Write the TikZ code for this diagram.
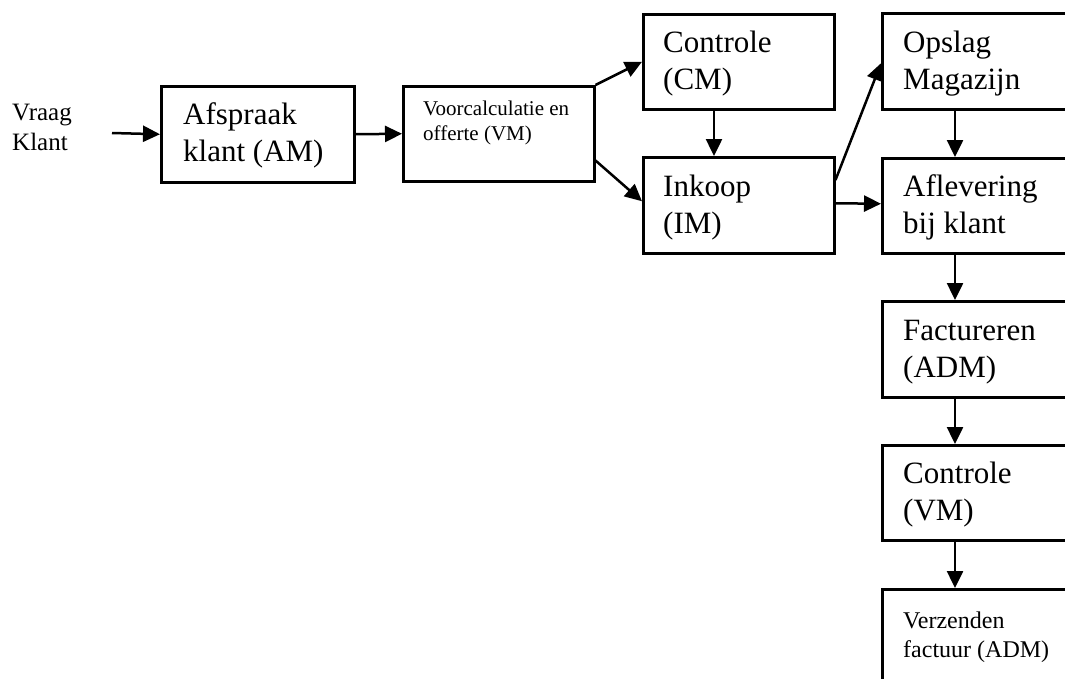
\documentclass[tikz,border=0pt]{standalone}
\usepackage{fontspec}
\setmainfont{Liberation Serif}
\usetikzlibrary{arrows.meta,calc}

\tikzset{
  box/.style={draw=black, line width=2.5pt, fill=white, anchor=north west, inner sep=0pt},
  lbl/.style={anchor=base west, inner sep=0pt, align=left, text=black},
  big/.style={lbl, font=\fontsize{31}{36.5}\selectfont},
  mid/.style={lbl, font=\fontsize{24}{29}\selectfont},
  small/.style={lbl, font=\fontsize{21}{25}\selectfont},
  flow/.style={line width=2.5pt, -{Triangle[length=17pt,width=16pt]}}
}

\begin{document}
\begin{tikzpicture}[x=1pt,y=-1pt]
  % page frame
  \useasboundingbox (0,0) rectangle (1065,678);
  \fill[white] (0,0) rectangle (1065,678);

  % boxes
  \node[box, minimum width=193pt, minimum height=96pt] (afspraak) at (160,85) {};
  \node[box, minimum width=191pt, minimum height=95pt] (voorc) at (402,85) {};
  \node[box, minimum width=191pt, minimum height=95pt] (ctrlcm) at (642,13) {};
  \node[box, minimum width=191pt, minimum height=96pt] (inkoop) at (642,156) {};
  \node[box, minimum width=220pt, minimum height=96pt] (opslag) at (881,12) {};
  \node[box, minimum width=220pt, minimum height=95pt] (aflev) at (881,157) {};
  \node[box, minimum width=220pt, minimum height=96pt] (fact) at (881,300) {};
  \node[box, minimum width=220pt, minimum height=95pt] (ctrlvm) at (881,444) {};
  \node[box, minimum width=220pt, minimum height=130pt] (verz) at (881,588) {};

  % texts (placed by the baseline of their last line)
  \node[lbl, font=\fontsize{25}{30}\selectfont] (vraag) at (12,150) {Vraag\\Klant};
  \node[big] (t-afspraak) at (183,161) {Afspraak\\klant (AM)};
  \node[small] (t-voorc) at (423,140) {Voorcalculatie en\\offerte (VM)};
  \node[big] (t-ctrlcm) at (663,89) {Controle\\(CM)};
  \node[big] (t-inkoop) at (663,233) {Inkoop\\(IM)};
  \node[big] (t-opslag) at (903,89) {Opslag\\Magazijn};
  \node[big] (t-aflev) at (903,233) {Aflevering\\bij klant};
  \node[big] (t-fact) at (903,377) {Factureren\\(ADM)};
  \node[big] (t-ctrlvm) at (903,520) {Controle\\(VM)};
  \node[mid] (t-verz) at (903,657) {Verzenden\\factuur (ADM)};

  % connectors
  \coordinate (start) at (112,133);
  \draw[flow] (start) -- (afspraak.west);
  \draw[flow] (afspraak.east) -- (voorc.west);
  \draw[flow] (voorc.north east) -- (ctrlcm.west);
  \draw[flow] ($(voorc.south east)+(0,-22)$) -- ($(inkoop.west)+(0,-4)$);
  \draw[flow] ($(ctrlcm.south west)+(72,0)$) -- ($(inkoop.north west)+(72,0)$);
  \draw[flow] ($(inkoop.north east)+(0,24)$) -- ($(opslag.west)+(0,2)$);
  \draw[flow] ($(inkoop.east)+(0,-2)$) -- ($(aflev.west)+(0,-2)$);
  \draw[flow] ($(opslag.south west)+(74,0)$) -- ($(aflev.north west)+(74,0)$);
  \draw[flow] ($(aflev.south west)+(74,0)$) -- ($(fact.north west)+(74,0)$);
  \draw[flow] ($(fact.south west)+(74,0)$) -- ($(ctrlvm.north west)+(74,0)$);
  \draw[flow] ($(ctrlvm.south west)+(74,0)$) -- ($(verz.north west)+(74,0)$);
\end{tikzpicture}
\end{document}
